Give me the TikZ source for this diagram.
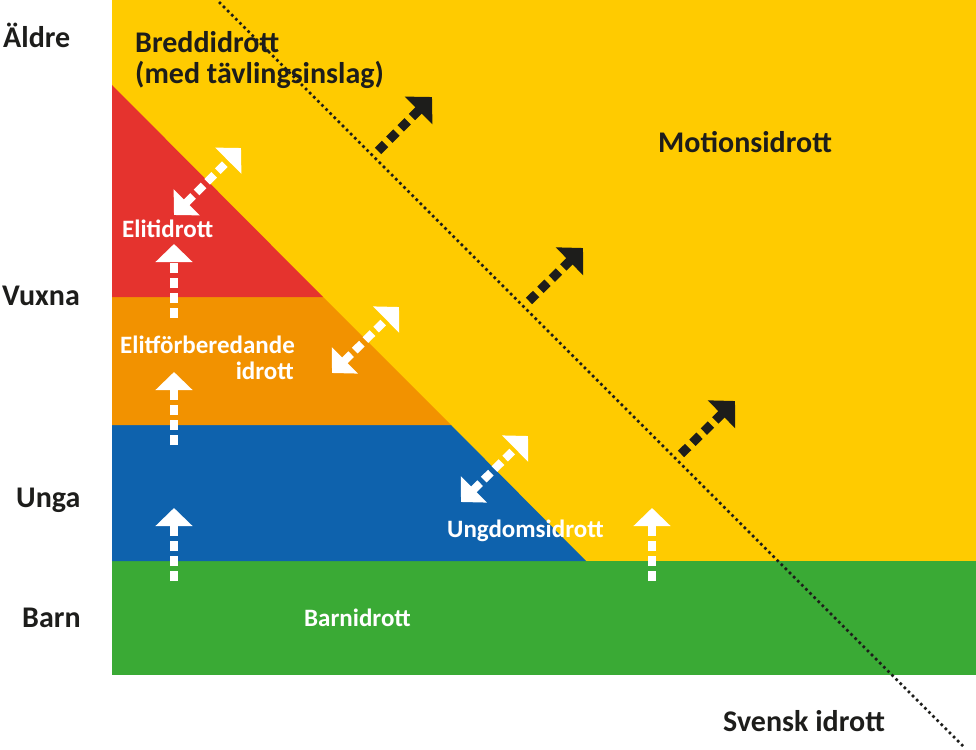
\documentclass[tikz,border=0pt]{standalone}
\usepackage{fontspec}
\setmainfont{Carlito}
\usetikzlibrary{arrows.meta}
\definecolor{cyellow}{RGB}{255,203,0}
\definecolor{cred}{RGB}{229,51,46}
\definecolor{corange}{RGB}{242,146,0}
\definecolor{cblue}{RGB}{14,98,173}
\definecolor{cgreen}{RGB}{58,170,53}
\definecolor{cdark}{RGB}{29,29,27}
\begin{document}
\begin{tikzpicture}[x=1pt,y=-1pt,
  blbl/.style={font=\bfseries\fontsize{30}{36}\selectfont, text=cdark, inner sep=0pt},
  wlbl/.style={font=\bfseries\fontsize{25}{30}\selectfont, text=white, inner sep=0pt},
  warr/.style={draw=white, line width=8pt, dash pattern=on 10pt off 5pt, -{Triangle[width=36pt,length=18pt]}},
  wdarr/.style={draw=white, line width=8pt, dash pattern=on 10pt off 5pt, {Triangle[width=36pt,length=18pt]}-{Triangle[width=36pt,length=18pt]}},
  barr/.style={draw=cdark, line width=9pt, dash pattern=on 10pt off 6pt, -{Triangle[width=38pt,length=19pt]}},
  dotline/.style={draw=cdark, line width=2.6pt, dash pattern=on 2.6pt off 3.2pt}
]
\useasboundingbox (0,0) rectangle (976,749);
% areas
\fill[cyellow] (112,0) rectangle (976,561);
\fill[cgreen] (112,561) rectangle (976,675);
\fill[cblue] (112,425) -- (451,425) -- (586,561) -- (112,561) -- cycle;
\fill[corange] (112,297) -- (323,297) -- (451,425) -- (112,425) -- cycle;
\fill[cred] (112,85) -- (323,297) -- (112,297) -- cycle;
% dotted line
\coordinate (d1) at (219,2);
\coordinate (d2) at (963,746);
\draw[dotline] (d1) -- (d2);
% left labels
\node[blbl, anchor=base west] (aldre) at (3,48) {Äldre};
\node[blbl, anchor=base west] (vuxna) at (2,305) {Vuxna};
\node[blbl, anchor=base west] (unga) at (16,507) {Unga};
\node[blbl, anchor=base west] (barn) at (22,627) {Barn};
% area labels
\node[blbl, anchor=base west] (bredd1) at (135,53) {Breddidrott};
\node[blbl, anchor=base west] (bredd2) at (135,84) {(med tävlingsinslag)};
\node[blbl, anchor=base west] (motion) at (658,152) {Motionsidrott};
\node[blbl, anchor=base west] (svensk) at (723,731) {Svensk idrott};
\node[wlbl, anchor=base west] (elit) at (122,237) {Elitidrott};
\node[wlbl, anchor=base west] (elitf1) at (120,353) {Elitförberedande};
\node[wlbl, anchor=base east] (elitf2) at (294,379) {idrott};
\node[wlbl, anchor=base west] (ungdom) at (447,537) {Ungdomsidrott};
\node[wlbl, anchor=base west] (barnid) at (304,626) {Barnidrott};
% vertical arrows
\coordinate (v1a) at (174,318); \coordinate (v1b) at (174,244);
\coordinate (v2a) at (174,445); \coordinate (v2b) at (174,372);
\coordinate (v3a) at (174,581); \coordinate (v3b) at (174,508);
\coordinate (v4a) at (652,581); \coordinate (v4b) at (652,508);
\draw[warr] (v1a) -- (v1b);
\draw[warr] (v2a) -- (v2b);
\draw[warr] (v3a) -- (v3b);
\draw[warr] (v4a) -- (v4b);
% double arrows
\coordinate (w1a) at (174,215); \coordinate (w1b) at (241,148);
\coordinate (w2a) at (332,373); \coordinate (w2b) at (399,307);
\coordinate (w3a) at (461,502); \coordinate (w3b) at (528,436);
\draw[wdarr] (w1a) -- (w1b);
\draw[wdarr] (w2a) -- (w2b);
\draw[wdarr] (w3a) -- (w3b);
% black arrows
\coordinate (b1a) at (378,151); \coordinate (b1b) at (432,97);
\coordinate (b2a) at (529,301); \coordinate (b2b) at (583,248);
\coordinate (b3a) at (681,454); \coordinate (b3b) at (735,401);
\draw[barr] (b1a) -- (b1b);
\draw[barr] (b2a) -- (b2b);
\draw[barr] (b3a) -- (b3b);
\end{tikzpicture}
\end{document}
